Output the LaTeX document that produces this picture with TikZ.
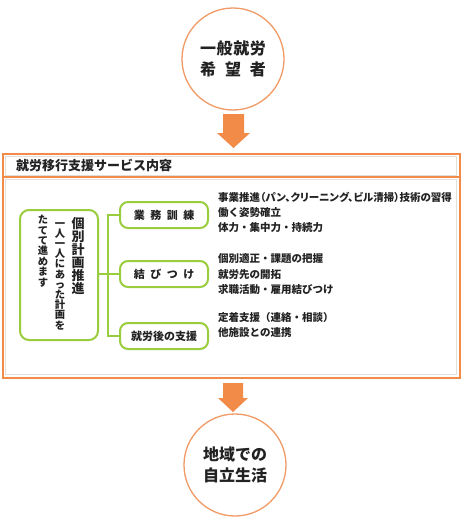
\documentclass[tikz,border=0pt]{standalone}
\usepackage{fontspec}
\setmainfont{Noto Sans CJK JP}
\newfontfamily\jpp{Noto Sans CJK JP}[RawFeature=+palt]
\definecolor{orng}{HTML}{F28A48}
\definecolor{orngline}{HTML}{F09A66}
\definecolor{grn}{HTML}{9ACD3E}
\definecolor{gryline}{HTML}{E2DEDA}
\definecolor{txt}{HTML}{222222}
\begin{document}
\begin{tikzpicture}[x=1pt,y=-1pt,
  circ/.style={circle,draw=orngline,line width=1.3pt,fill=white,minimum size=102pt,inner sep=0pt,align=center,text=txt,
    font=\bfseries\fontsize{16}{21}\selectfont},
  gbox/.style={draw=grn,line width=2pt,rounded corners=8pt,fill=white,minimum width=88pt,minimum height=26pt,inner sep=0pt,text=txt,
    font=\bfseries\fontsize{11}{11}\selectfont},
  glink/.style={draw=grn,line width=2pt},
  item/.style={anchor=west,inner sep=0pt,text=txt,font=\bfseries\fontsize{10.5}{10.5}\selectfont},
  bigarrow/.style={fill=orng,draw=none},
  vcol/.style={anchor=north,inner sep=0pt,align=center,text=txt}
]
\useasboundingbox (0,0) rectangle (465,522);

% circles
\node[circ] (top) at (233,59) {\makebox[4.1em][s]{一\hfill 般\hfill 就\hfill 労}\\\makebox[4.1em][s]{希\hfill 望\hfill 者}};
\node[circ] (bot) at (235,465) {地域での\\自立生活};

% outer box
\node[draw=orng,line width=2pt,minimum width=457pt,minimum height=224pt,inner sep=0pt,anchor=north west,fill=white] (outer) at (2,153) {};
\draw[gryline,line width=1pt] (5,156) rectangle (456,175);
\draw[orng,line width=2pt] (2,177) -- (459,177);
\draw[gryline,line width=1pt] (5,179) rectangle (456,374);
\node[anchor=west,inner sep=0pt,text=txt,font=\bfseries\fontsize{13}{13}\selectfont] (head) at (16,165) {就労移行支援サービス内容};

% arrows
\fill[bigarrow] (223,114) -- (244,114) -- (244,133) -- (250,133) -- (233.5,148) -- (217,133) -- (223,133) -- cycle;
\fill[bigarrow] (223,383) -- (243,383) -- (243,398) -- (248,398) -- (233,412) -- (218,398) -- (223,398) -- cycle;

% left box
\node[draw=grn,line width=2pt,rounded corners=9pt,minimum width=78pt,minimum height=130pt,inner sep=0pt] (left) at (59,275) {};
\node[vcol,font=\bfseries\fontsize{13}{13}\selectfont] (c1) at (78,217) {個\\別\\計\\画\\推\\進};
\node[vcol,font=\bfseries\fontsize{10.3}{10.2}\selectfont] (c2) at (60,222) {一\\人\\一\\人\\に\\あ\\っ\\た\\計\\画\\を};
\node[vcol,font=\bfseries\fontsize{10.3}{10.4}\selectfont] (c3) at (43,215) {た\\て\\て\\進\\め\\ま\\す};

% green boxes
\node[gbox] (b1) at (164,215) {\makebox[5.5em][s]{業\hfill 務\hfill 訓\hfill 練}};
\node[gbox] (b2) at (164,274) {\makebox[5.5em][s]{結\hfill び\hfill つ\hfill け}};
\node[gbox] (b3) at (164,336) {就労後の支援};

\coordinate (j) at (108,274);
\draw[glink] (left.east |- j) -- (j);
\draw[glink] (b1.west) -| (j);
\draw[glink] (b3.west) -| (j);
\draw[glink] (b2.west) -- (j);

% item texts
\node[item] (t11) at (218,197) {\jpp 事業推進（パン、クリーニング、ビル清掃）技術の習得};
\node[item] (t12) at (218,213) {働く姿勢確立};
\node[item] (t13) at (218,228) {体力・集中力・持続力};
\node[item] (t21) at (218,259) {個別適正・課題の把握};
\node[item] (t22) at (218,275) {就労先の開拓};
\node[item] (t23) at (218,290) {求職活動・雇用結びつけ};
\node[item] (t31) at (218,318) {定着支援（連絡・相談）};
\node[item] (t32) at (218,333) {他施設との連携};
\end{tikzpicture}
\end{document}
